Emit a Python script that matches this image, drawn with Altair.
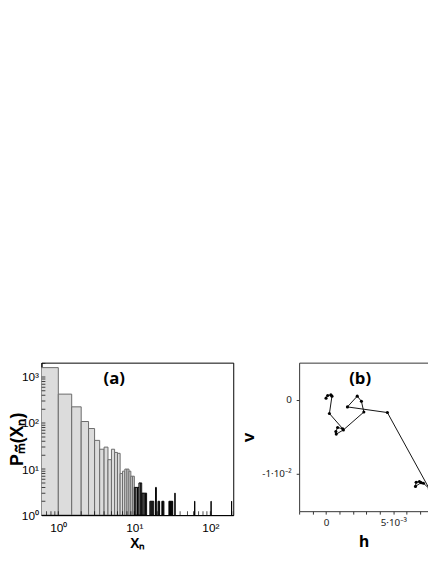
import altair as alt
import pandas as pd

# ---------------- panel (a): histogram ----------------
bin_lo = [0.5, 1, 1.5, 2, 2.5, 3, 3.5, 4, 4.5, 5, 5.5, 6, 6.5, 7, 7.5, 8, 8.5, 9, 9.5,
          10, 10.5, 11, 11.5, 12, 12.5, 13, 13.5, 14, 16, 16.5, 17, 17.5, 19, 20.5, 21,
          23, 23.5, 24, 28.5, 29, 29.5, 30, 30.5, 31, 31.5, 34, 62, 102, 190]
bin_hi = [1, 1.5, 2, 2.5, 3, 3.5, 4, 4.5, 5, 5.5, 6, 6.5, 7, 7.5, 8, 8.5, 9, 9.5, 10,
          10.5, 11, 11.5, 12, 12.5, 13, 13.5, 14, 14.5, 16.5, 17, 17.5, 18, 19.5, 21, 21.5,
          23.5, 24, 24.5, 29, 29.5, 30, 30.5, 31, 31.5, 32, 34.5, 62.5, 102.5, 190.5]
counts = [1600, 425, 225, 108, 76, 42, 27, 30, 16, 27, 23, 22, 8, 9, 10, 10, 9, 7, 7,
          4, 4, 4, 5, 5, 3, 3, 3, 3, 2, 2, 2, 2, 4, 2, 2,
          2, 2, 2, 2, 2, 2, 2, 2, 2, 2, 3, 2, 2, 2]

x_minor_ticks = [0.7, 0.8, 0.9, 1, 2, 3, 4, 5, 6, 7, 8, 9, 10, 20, 30, 40, 50, 60, 70, 80, 90, 100, 200]
y_minor_ticks = [2, 3, 4, 5, 6, 7, 8, 9, 10, 20, 30, 40, 50, 60, 70, 80, 90, 100,
                 200, 300, 400, 500, 600, 700, 800, 900, 1000, 2000]

panel_a_label = ["(a)"]
panel_b_label = ["(b)"]

hist = pd.DataFrame({"lo": bin_lo, "hi": bin_hi, "count": counts})

xs = alt.Scale(type="log", domain=[0.6, 200], nice=False)
ys = alt.Scale(type="log", domain=[1, 2050], nice=False)

sup = "{'1':'10\u2070','10':'10\u00b9','100':'10\u00b2','1000':'10\u00b3'}[format(datum.value,'d')]"

bars = alt.Chart(hist).mark_bar(clip=True, strokeWidth=1, fill="#dcdcdc").encode(
    x=alt.X("lo:Q", scale=xs, axis=alt.Axis(
        values=[1, 10, 100], labelExpr=sup, ticks=False, tickSize=0, grid=False,
        labelPadding=8, labelFont="Liberation Sans", labelFontSize=12, labelColor="#000",
        domainColor="#000", title="X\u2099", titleFont="Liberation Sans", titleFontSize=14,
        titleFontWeight="bold", titlePadding=2, titleColor="#000",
        minExtent=20, maxExtent=20)),
    x2="hi:Q",
    y=alt.Y("count:Q", scale=ys, axis=alt.Axis(
        values=[1, 10, 100, 1000], labelExpr=sup, ticks=False, tickSize=0, grid=False,
        labelPadding=3, labelFont="Liberation Sans", labelFontSize=12, labelColor="#000",
        domainColor="#000", title="P\u2098\u0303(X\u2099)", titleFont="Liberation Sans",
        titleFontSize=18, titleFontWeight="bold", titlePadding=0, titleColor="#000",
        minExtent=15, maxExtent=15)),
    y2=alt.Y2(datum=1),
    stroke=alt.condition("datum.lo < 10", alt.value("#6a6a6a"), alt.value("#000")),
)

xt = alt.Chart(pd.DataFrame({"t": x_minor_ticks})).mark_tick(
    orient="vertical", size=4, yOffset=-2, color="#000", thickness=1, clip=True).encode(
    x=alt.X("t:Q", scale=xs), y=alt.datum(1, scale=ys))
yt = alt.Chart(pd.DataFrame({"t": y_minor_ticks})).mark_tick(
    orient="horizontal", size=4, xOffset=2, color="#000", thickness=1, clip=True).encode(
    y=alt.Y("t:Q", scale=ys), x=alt.datum(0.6, scale=xs))

label_a = alt.Chart(pd.DataFrame({"label": panel_a_label})).mark_text(
    font="Open Sans", fontSize=17, fontWeight="bold", color="#000",
    align="center", baseline="middle").encode(
    text="label:N", x=alt.value(74), y=alt.value(17))

left = alt.layer(bars, xt, yt, label_a).properties(
    width=195, height=155,
    view=alt.ViewBackground(stroke="#000"),
)

# ---------------- panel (b): trajectory ----------------
step = list(range(22))
h_vals = [0.0, 0.00012, 0.00036, 0.00044, 0.00025, 0.00124, 0.00086, 0.00073, 0.00076, 0.00129,
          0.00281, 0.00263, 0.00232, 0.00159, 0.00456, 0.00853, 0.00768, 0.00724, 0.00694,
          0.0067, 0.00665, 0.00707]
v_vals = [0.00022, 0.00057, 0.00066, 0.00049, -0.00185, -0.0039, -0.00374, -0.00427, -0.00462,
          -0.00406, -0.00165, -0.0002, 0.00049, -0.00096, -0.00172, -0.0148, -0.01198,
          -0.01123, -0.0110, -0.0111, -0.01166, -0.01116]
traj = pd.DataFrame({"step": step, "h": h_vals, "v": v_vals})

hx = alt.Scale(domain=[-0.002, 0.00758], nice=False, zero=False)
vy = alt.Scale(domain=[-0.015, 0.005], nice=False, zero=False)

hlab = "abs(datum.value) < 1e-9 ? '0' : (abs(datum.value - 0.005) < 1e-9 ? '5\u00b710\u207b\u00b3' : '')"
vlab = "abs(datum.value) < 1e-9 ? '0' : (abs(datum.value + 0.01) < 1e-9 ? '-1\u00b710\u207b\u00b2' : '')"

line = alt.Chart(traj).mark_line(
    clip=True, color="#111", strokeWidth=1,
    point=alt.OverlayMarkDef(filled=True, size=10, color="#000", clip=True)).encode(
    x=alt.X("h:Q", scale=hx, axis=alt.Axis(
        values=[-0.002, -0.001, 0, 0.001, 0.002, 0.003, 0.004, 0.005, 0.006, 0.007],
        labelExpr=hlab, tickSize=3, tickColor="#333", domainColor="#333", grid=False,
        labelPadding=4, labelFont="Noto Sans", labelFontSize=10, labelColor="#222",
        title="h", titleFont="Noto Sans", titleFontSize=16, titleFontWeight="bold",
        titlePadding=6, titleColor="#000", minExtent=17, maxExtent=17)),
    y=alt.Y("v:Q", scale=vy, axis=alt.Axis(
        values=[-0.01, 0], labelExpr=vlab, tickSize=3, tickColor="#333", domainColor="#333",
        grid=False, labelPadding=5, labelFont="Noto Sans", labelFontSize=10, labelColor="#222",
        title="v", titleFont="Noto Sans", titleFontSize=17, titleFontWeight="bold",
        titlePadding=2, titleColor="#000", minExtent=40, maxExtent=40)),
    order="step:Q",
)

topline = alt.Chart(traj).mark_point(opacity=0, clip=True).encode(
    x=alt.X("h:Q", scale=hx, axis=alt.Axis(orient="top", labels=False, ticks=False,
                                           title=None, domainColor="#333", grid=False)),
    y=alt.Y("v:Q", scale=vy),
)

label_b = alt.Chart(pd.DataFrame({"label": panel_b_label})).mark_text(
    font="Open Sans", fontSize=17, fontWeight="bold", color="#000",
    align="center", baseline="middle").encode(
    text="label:N", x=alt.value(62), y=alt.value(17))

right = alt.layer(line, topline, label_b).resolve_axis(x="independent").properties(
    width=131, height=151,
)

chart = alt.hconcat(left, right, spacing=6).properties(
    padding={"top": 355, "left": 0, "right": 0, "bottom": 0}
).configure_view(stroke=None)

chart.save("out.html", embed_options={"renderer": "svg", "actions": False})
